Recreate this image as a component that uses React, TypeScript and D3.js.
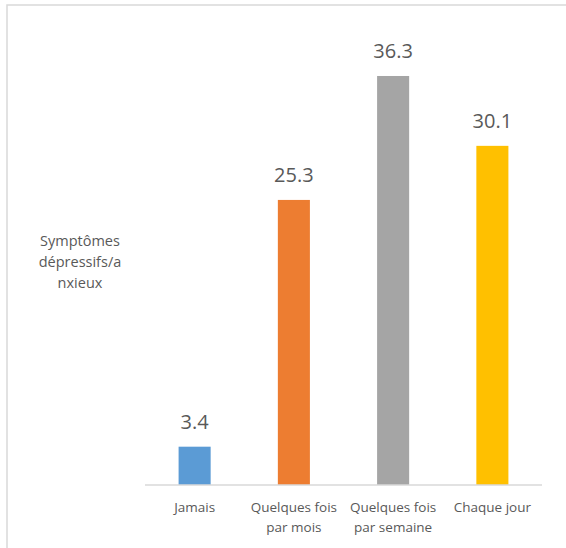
import React from "react";
import * as d3 from "d3";

const categories: string[][] = [
  ["Jamais"],
  ["Quelques fois", "par mois"],
  ["Quelques fois", "par semaine"],
  ["Chaque jour"],
];
const values: number[] = [3.4, 25.3, 36.3, 30.1];
const colors: string[] = ["#5b9bd5", "#ed7d31", "#a5a5a5", "#ffc000"];
const yAxisTitle: string[] = ["Symptômes", "dépressifs/a", "nxieux"];

const W = 566;
const H = 548;
const FONT = "'Open Sans', sans-serif";
const TEXT = "#595959";

export default function App() {
  const keys = categories.map((c) => c.join(" "));
  const x = d3
    .scaleBand<string>()
    .domain(keys)
    .range([145, 542])
    .paddingInner(0.677)
    .paddingOuter(0.3385);
  const y = d3.scaleLinear().domain([0, 40]).range([485, 34.3]);

  return (
    <svg
      width={W}
      height={H}
      style={{ position: "absolute", left: 0, top: 0, background: "#fff" }}
    >
      <rect x={7} y={5} width={W + 20} height={H + 20} fill="#fff" stroke="#d9d9d9" strokeWidth={1.5} />
      {values.map((v, i) => {
        const k = keys[i];
        const bx = x(k)!;
        return (
          <g key={k}>
            <rect x={bx} y={y(v)} width={x.bandwidth()} height={y(0) - y(v)} fill={colors[i]} />
            <text
              x={bx + x.bandwidth() / 2}
              y={y(v) - 17.5}
              textAnchor="middle"
              fontFamily={FONT}
              fontSize={20}
              fill={TEXT}
            >
              {v.toFixed(1)}
            </text>
          </g>
        );
      })}
      <line x1={145} x2={542} y1={y(0)} y2={y(0)} stroke="#d9d9d9" strokeWidth={1.5} />
      {categories.map((lines, i) => {
        const k = keys[i];
        const cx = x(k)! + x.bandwidth() / 2;
        return (
          <text key={k} textAnchor="middle" fontFamily={FONT} fontSize={13.5} fill={TEXT}>
            {lines.map((l, j) => (
              <tspan key={j} x={cx} y={512 + j * 19.5}>
                {l}
              </tspan>
            ))}
          </text>
        );
      })}
      <text textAnchor="middle" fontFamily={FONT} fontSize={14.5} fill={TEXT}>
        {yAxisTitle.map((l, j) => (
          <tspan key={j} x={80} y={246 + j * 21}>
            {l}
          </tspan>
        ))}
      </text>
    </svg>
  );
}
